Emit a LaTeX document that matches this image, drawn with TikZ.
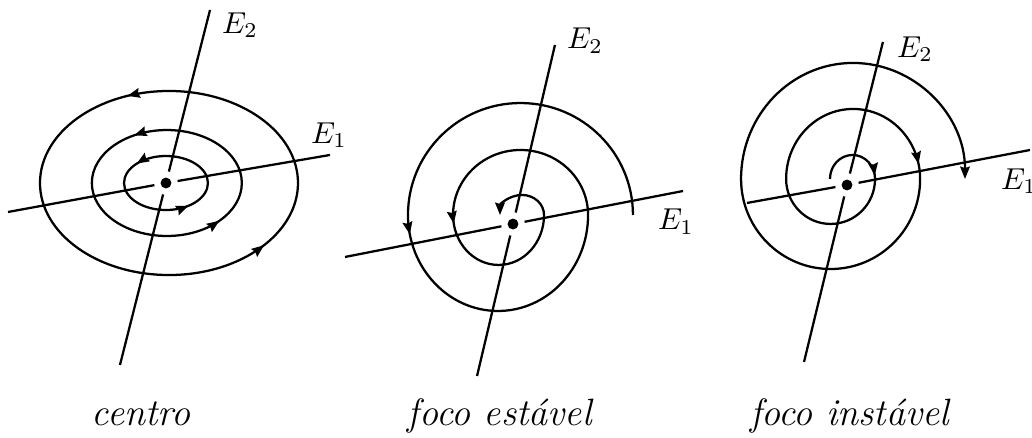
\documentclass[tikz,border=0pt]{standalone}
\usepackage{amsmath}
\usetikzlibrary{decorations.markings, arrows.meta}
\tikzset{
  ->-/.style 2 args={
    decoration={markings,
      mark=at position #1 with {\arrow{>}},
      mark=at position #2 with {\arrow{>}}},
    postaction={decorate}
  },
  ponto/.style={circle, fill, inner sep=0pt, minimum size=3.6pt, outer sep=2.1pt},
  eixo/.style={inner sep=0pt},
  nome/.style={anchor=base, font=\fontsize{12.6}{15}\selectfont\itshape}
}

\begin{document}
\begin{tikzpicture}[line width=0.75pt, >={Stealth[length=4.1pt, width=3.2pt, inset=0.5pt]}]
  \useasboundingbox (0,0) rectangle (12,5.093);
  % centro
  \node[ponto] (o1) at (1.930,2.965) {};
  \coordinate (c-e1a) at (0.093,2.628); \coordinate (c-e1b) at (3.837,3.291);
  \coordinate (c-e2a) at (1.395,0.849); \coordinate (c-e2b) at (2.442,4.977);
  \draw (c-e1a) -- (o1) -- (c-e1b);
  \draw (c-e2a) -- (o1) -- (c-e2b);
  \node[eixo] (c-E1) at (3.826,3.523) {$E_1$};
  \node[eixo] (c-E2) at (2.791,4.802) {$E_2$};
  \draw[->-={0.39}{0.855}] (o1.center) ellipse (0.488 and 0.314);
  \draw[->-={0.332}{0.887}] ([xshift=0.01cm]o1.center) ellipse (0.872 and 0.616);
  \draw[->-={0.31}{0.895}] ([xshift=0.035cm]o1.center) ellipse (1.500 and 1.070);
  \node[nome] (c-nome) at (1.640,0.14) {centro};
  % foco estavel
  \node[ponto] (o2) at (5.965,2.488) {};
  \coordinate (e-e1a) at (4.012,2.105); \coordinate (e-e1b) at (7.942,2.872);
  \coordinate (e-e2a) at (5.547,0.721); \coordinate (e-e2b) at (6.453,4.570);
  \draw (e-e1a) -- (o2) -- (e-e1b);
  \draw (e-e2a) -- (o2) -- (e-e2b);
  \node[eixo] (e-E1) at (7.860,2.517) {$E_1$};
  \node[eixo] (e-E2) at (6.802,4.622) {$E_2$};
  \coordinate (s2) at (7.360,2.593);
  \draw[->-={0.348}{0.806}, ->] (s2)
    arc (0:180:1.308 and 1.302) arc (180:360:1.047 and 1.116)
    arc (0:180:0.785 and 0.756) arc (180:360:0.529 and 0.581)
    arc (0:180:0.256 and 0.233);
  \node[nome] (e-nome) at (5.81,0.14) {foco estável};
  % foco instavel
  \node[ponto] (o3) at (9.849,2.942) {};
  \coordinate (i-e1a) at (8.686,2.733); \coordinate (i-e1b) at (11.977,3.349);
  \coordinate (i-e2a) at (9.349,0.884); \coordinate (i-e2b) at (10.267,4.605);
  \draw (i-e1a) -- (o3) -- (i-e1b);
  \draw (i-e2a) -- (o3) -- (i-e2b);
  \node[eixo] (i-E1) at (11.849,2.988) {$E_1$};
  \node[eixo] (i-E2) at (10.640,4.523) {$E_2$};
  \coordinate (s3) at (9.651,3.012);
  \draw[->-={0.065}{0.387}, ->] (s3)
    arc (180:0:0.262 and 0.279) arc (0:-180:0.517 and 0.523)
    arc (180:0:0.779 and 0.814) arc (0:-180:1.041 and 1.047)
    arc (180:0:1.302 and 1.349);
  \node[nome] (i-nome) at (9.88,0.14) {foco instável};
\end{tikzpicture}
\end{document}
